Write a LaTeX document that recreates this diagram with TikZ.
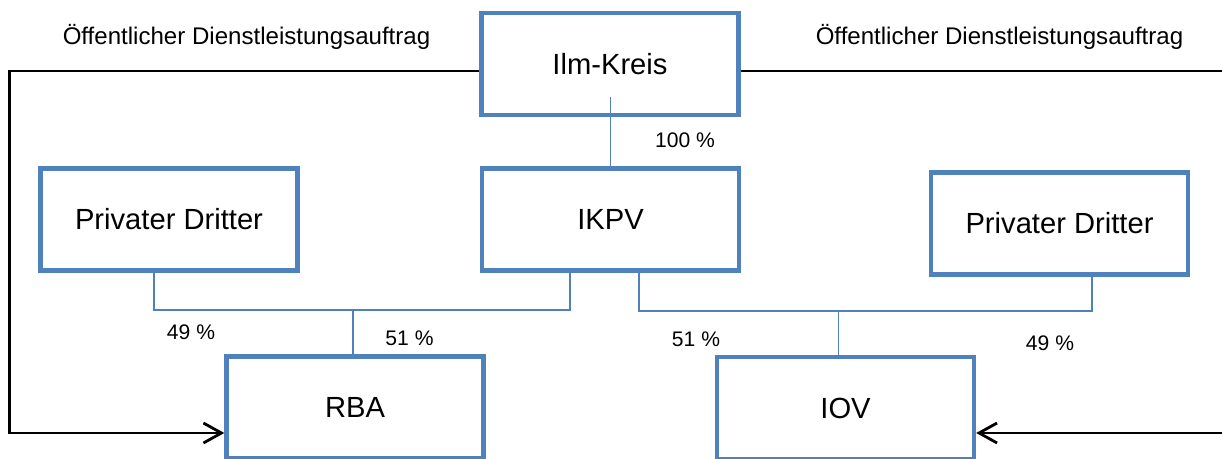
\documentclass[tikz,border=0pt]{standalone}
\usepackage{fontspec}
\setmainfont{Liberation Sans}
\usepackage{tikz}
\usetikzlibrary{arrows.meta, calc}
\definecolor{boxblue}{HTML}{4F81BD}
\tikzset{
  >={Straight Barb[length=0.36cm, width=0.4cm]},
  box/.style={draw=boxblue, line width=2.5pt, minimum width=5.14cm, minimum height=2.04cm, inner sep=0pt, font=\fontsize{16.6}{19}\selectfont},
  link/.style={draw=boxblue, line width=1.1pt},
  contract/.style={draw=black, line width=1.6pt},
  auftrag/.style={anchor=base, inner sep=0pt, font=\fontsize{13.7}{16}\selectfont},
  anteil/.style={anchor=base, inner sep=0pt, font=\fontsize{12}{14}\selectfont},
}

\begin{document}
\begin{tikzpicture}[x=0.02cm, y=-0.02cm]
      \useasboundingbox (0,0) rectangle (1222,459);

      \node[box] (ilm) at (610,64) {Ilm-Kreis};
      \node[box] (ikpv) at (610.5,219.5) {IKPV};
      \node[box] (pdl) at (169,219.5) {Privater Dritter};
      \node[box] (pdr) at (1059.5,223.5) {Privater Dritter};
      \node[box] (rba) at (355,407.5) {RBA};
      \node[box] (iov) at (845.5,408) {IOV};

      \node[auftrag] (auftragl) at (246.5,45) {Öffentlicher Dienstleistungsauftrag};
      \node[auftrag] (auftragr) at (999.5,45) {Öffentlicher Dienstleistungsauftrag};

      % Beteiligungen
      \draw[link] ($(ilm.south)+(0.5,-20)$) -- (ikpv.north);
      \node[anteil] (p100) at (685,148) {100 \%};

      \coordinate (jl) at ($(rba.north)+(-2,-44)$);
      \draw[link] ($(pdl.south)+(-15,0)$) |- (jl) -| ($(ikpv.south)+(-40.5,-3)$);
      \draw[link] (jl) -- ($(rba.north)+(-2,0)$);
      \node[anteil] (p49l) at (191,339) {49 \%};
      \node[anteil] (p51l) at (409.5,345) {51 \%};

      \coordinate (jr) at ($(iov.north)+(-7,-44)$);
      \draw[link] ($(ikpv.south)+(28.5,-3)$) |- (jr) -| ($(pdr.south)+(32.5,-2)$);
      \draw[link] (jr) -- ($(iov.north)+(-7,0)$);
      \node[anteil] (p51r) at (696,346) {51 \%};
      \node[anteil] (p49r) at (1050,350) {49 \%};

      % Auftraege
      \draw[contract,->] ($(ilm.west)+(0,7)$) -| ($(rba.west)+(-215,25.5)$) -- ($(rba.west)+(0,25.5)$);
      \draw[contract,->] ($(ilm.east)+(0,7)$) -| ($(iov.east)+(270,25)$) -- ($(iov.east)+(0,25)$);
    \end{tikzpicture}
\end{document}
